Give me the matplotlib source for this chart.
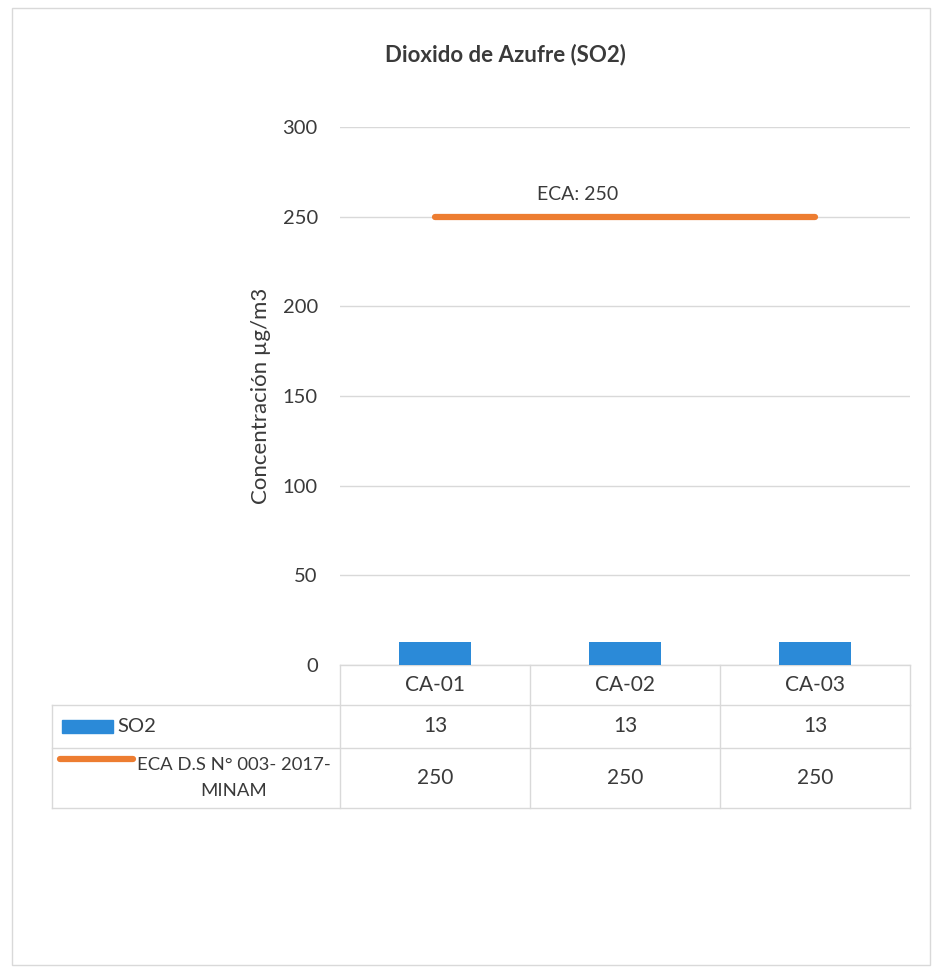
import matplotlib.pyplot as plt
from matplotlib.patches import Rectangle
from matplotlib.lines import Line2D

OUTPUT = "out.png"

stations = ["CA-01", "CA-02", "CA-03"]
so2_values = [13, 13, 13]
eca_values = [250, 250, 250]
eca_label = "ECA D.S N° 003- 2017-\nMINAM"
y_ticks = [0, 50, 100, 150, 200, 250, 300]

BLUE = "#2b8ad8"
ORANGE = "#ed7d31"
GRID = "#d9d9d9"
TEXT = "#3a3a3a"

plt.rcParams["font.family"] = ["Lato", "DejaVu Sans"]

fig = plt.figure(figsize=(9.36, 9.74), dpi=100)
fig.patch.set_facecolor("white")

# outer chart frame
fig.add_artist(Rectangle((12 / 936, 1 - 965 / 974), 918 / 936, 957 / 974,
                         transform=fig.transFigure, fill=False,
                         edgecolor=GRID, lw=1))

ax = fig.add_axes([340 / 936, 1 - 665 / 974, 570 / 936, 538 / 974])
x = list(range(len(stations)))

ax.bar(x, so2_values, width=0.38, color=BLUE, zorder=3)
ax.plot(x, eca_values, color=ORANGE, lw=4.5, solid_capstyle="round", zorder=4)
ax.annotate(f"ECA: {eca_values[1]}", (x[1], eca_values[1]),
            xytext=(-34, 10), textcoords="offset points",
            ha="center", va="bottom", fontsize=14, color=TEXT)

ax.set_xlim(-0.5, len(stations) - 0.5)
ax.set_ylim(0, 300)
ax.set_yticks(y_ticks)
ax.tick_params(axis="y", length=0, labelsize=14.5, labelcolor=TEXT, pad=16)
ax.set_xticks([])
ax.grid(axis="y", color=GRID, lw=1)
ax.set_axisbelow(True)
for side in ["top", "right", "left", "bottom"]:
    ax.spines[side].set_visible(False)
ax.set_ylabel("Concentración µg/m3", fontsize=16, color=TEXT, labelpad=8)
ax.set_title("Dioxido de Azufre (SO2)", fontsize=16, fontweight="bold",
             color=TEXT, pad=47, x=0.29)

# data table under the plot (axes-fraction rows)
rows = [0.0, -0.074, -0.154, -0.266]
left = -0.505
tr = ax.transAxes
line_kw = dict(transform=tr, color=GRID, lw=1, clip_on=False)
ax.add_line(Line2D([0, 1], [rows[0], rows[0]], **line_kw))
for r in rows[1:]:
    ax.add_line(Line2D([left, 1], [r, r], **line_kw))
ax.add_line(Line2D([left, left], [rows[1], rows[3]], **line_kw))
for i in range(len(stations) + 1):
    xf = i / len(stations)
    ax.add_line(Line2D([xf, xf], [rows[0], rows[3]], **line_kw))

for i, name in enumerate(stations):
    xc = (i + 0.5) / len(stations)
    ax.text(xc, (rows[0] + rows[1]) / 2, name, transform=tr,
            ha="center", va="center", fontsize=15, color=TEXT)
    ax.text(xc, (rows[1] + rows[2]) / 2, str(so2_values[i]), transform=tr,
            ha="center", va="center", fontsize=15, color=TEXT)
    ax.text(xc, (rows[2] + rows[3]) / 2, str(eca_values[i]), transform=tr,
            ha="center", va="center", fontsize=15, color=TEXT)

# legend keys in the first column
ax.add_patch(Rectangle((left + 0.018, (rows[1] + rows[2]) / 2 - 0.012), 0.088, 0.024,
                       transform=tr, color=BLUE, clip_on=False))
ax.text(left + 0.114, (rows[1] + rows[2]) / 2, "SO2", transform=tr,
        ha="left", va="center", fontsize=14.5, color=TEXT)
ax.add_line(Line2D([left + 0.014, left + 0.142], [rows[2] - 0.02, rows[2] - 0.02],
                   transform=tr, color=ORANGE, lw=4.5, solid_capstyle="round",
                   clip_on=False))
ax.text(left + 0.318, (rows[2] + rows[3]) / 2, eca_label, transform=tr,
        ha="center", va="center", fontsize=13.3, color=TEXT,
        multialignment="center", linespacing=1.75)

plt.savefig(OUTPUT, dpi=100, facecolor="white")
print(f"plot saved: {OUTPUT}")
